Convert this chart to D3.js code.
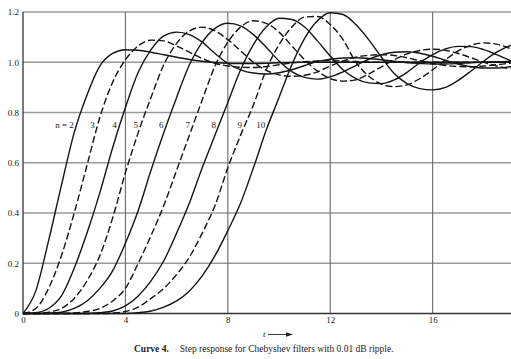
<!DOCTYPE html>
<html><head><meta charset="utf-8">
<script src="https://cdn.jsdelivr.net/npm/d3@7"></script>
<style>html,body{margin:0;padding:0;background:#fff;} svg{display:block;}</style>
</head><body>
<svg id="chart" width="511" height="359"></svg>
<script>
// ---- data ----
const times = [0,0.5,1,1.5,2,2.5,3,3.5,4,4.5,5,5.5,6,6.5,7,7.5,8,8.5,9,9.5,10,10.5,11,11.5,12,12.5,13,13.5,14,14.5,15,15.5,16,16.5,17,17.5,18,18.5,19,19.5];
const n2 = [0,0.09,0.29,0.51,0.72,0.87,0.985,1.035,1.05,1.048,1.04,1.03,1.02,1.011,1.004,0.999,0.996,0.995,0.995,0.996,0.998,0.999,1,1,1,1,1,1,1,1,1,1,1,1,1,1,1,1,1,1];
const n3 = [0,0.02,0.1,0.23,0.4,0.59,0.78,0.92,1.01,1.065,1.088,1.085,1.065,1.04,1.015,0.996,0.985,0.98,0.979,0.983,0.99,0.997,1.002,1.005,1.006,1.005,1.003,1.001,1,1,1,1,1,1,1,1,1,1,1,1];
const n4 = [0,0.003,0.02,0.07,0.18,0.32,0.48,0.66,0.82,0.96,1.05,1.105,1.12,1.11,1.08,1.035,0.995,0.97,0.957,0.953,0.958,0.97,0.987,1.003,1.012,1.017,1.018,1.015,1.01,1.004,0.998,0.995,0.993,0.993,0.995,0.998,1,1.002,1.003,1.003];
const n5 = [0,0,0.005,0.02,0.06,0.13,0.23,0.38,0.56,0.72,0.86,0.99,1.075,1.125,1.14,1.125,1.09,1.045,1,0.968,0.95,0.944,0.948,0.962,0.985,1.005,1.02,1.028,1.03,1.027,1.018,1.006,0.995,0.987,0.983,0.982,0.985,0.99,0.996,1];
const n6 = [0,0,0.001,0.005,0.02,0.05,0.1,0.17,0.28,0.41,0.57,0.72,0.86,0.99,1.08,1.135,1.155,1.145,1.11,1.06,1.005,0.963,0.94,0.933,0.942,0.962,0.987,1.012,1.03,1.04,1.042,1.036,1.024,1.008,0.993,0.982,0.977,0.977,0.982,0.99];
const n7 = [0,0,0,0,0.002,0.008,0.02,0.05,0.1,0.2,0.31,0.43,0.57,0.71,0.85,0.985,1.08,1.14,1.165,1.155,1.12,1.065,1.01,0.965,0.935,0.925,0.93,0.953,0.982,1.01,1.033,1.047,1.052,1.048,1.035,1.018,1,0.985,0.975,0.972];
const n8 = [0,0,0,0,0,0,0.003,0.01,0.03,0.07,0.13,0.21,0.32,0.44,0.58,0.71,0.84,0.97,1.07,1.14,1.175,1.17,1.14,1.085,1.025,0.97,0.935,0.918,0.915,0.93,0.96,0.998,1.03,1.053,1.063,1.062,1.05,1.03,1.008,0.99];
const n9 = [0,0,0,0,0,0,0,0.002,0.008,0.025,0.06,0.1,0.155,0.225,0.32,0.43,0.58,0.71,0.83,0.97,1.07,1.14,1.18,1.182,1.15,1.09,1,0.945,0.913,0.903,0.91,0.935,0.97,1.01,1.045,1.068,1.077,1.072,1.055,1.03];
const n10 = [0,0,0,0,0,0,0,0,0,0.003,0.01,0.025,0.05,0.09,0.15,0.23,0.33,0.44,0.58,0.73,0.86,0.99,1.095,1.165,1.197,1.19,1.15,1.09,1.02,0.955,0.915,0.895,0.89,0.9,0.928,0.965,1.005,1.04,1.065,1.08];
const orders = [2,3,4,5,6,7,8,9,10];
const seriesValues = [n2,n3,n4,n5,n6,n7,n8,n9,n10];
const orderLabels = ["n = 2","3","4","5","6","7","8","9","10"];
const xTicks = [0,4,8,12,16];
const xTickLabels = ["0","4","8","12","16"];
const yTicks = [0,0.2,0.4,0.6,0.8,1.0,1.2];
const yTickLabels = ["0","0.2","0.4","0.6","0.8","1.0","1.2"];
const xAxisLabel = "t";
const captionBold = "Curve 4.";
const captionText = "Step response for Chebyshev filters with 0.01 dB ripple.";

// ---- layout ----
const svg = d3.select("#chart");
svg.append("rect").attr("width",511).attr("height",359).attr("fill","#fff");
const x = d3.scaleLinear().domain([0,19.06]).range([23,511]);
const y = d3.scaleLinear().domain([0,1.2]).range([313.5,12]);
const serif = "'Liberation Serif','DejaVu Serif',serif";

svg.append("defs").append("clipPath").attr("id","plot")
  .append("rect").attr("x",23).attr("y",10).attr("width",488).attr("height",306);

// grid
const grid = svg.append("g");
grid.selectAll("line.h").data(yTicks.filter(d=>d>0)).join("line")
  .attr("x1",x(0)).attr("x2",511).attr("y1",d=>y(d)).attr("y2",d=>y(d))
  .attr("stroke","#9a9a9a").attr("stroke-width",1.6);
grid.selectAll("line.v").data(xTicks.filter(d=>d>0)).join("line")
  .attr("x1",d=>x(d)).attr("x2",d=>x(d)).attr("y1",y(1.2)).attr("y2",y(0))
  .attr("stroke","#6a6a6a").attr("stroke-width",1.1);
// axes frame
svg.append("line").attr("x1",x(0)).attr("x2",x(0)).attr("y1",y(1.2)).attr("y2",y(0)+1)
  .attr("stroke","#333").attr("stroke-width",1.3);
svg.append("line").attr("x1",x(0)).attr("x2",511).attr("y1",y(0)).attr("y2",y(0))
  .attr("stroke","#333").attr("stroke-width",1.3);

// axes labels
const yAxis = svg.append("g").attr("transform",`translate(${x(0)},0)`)
  .call(d3.axisLeft(y).tickValues(yTicks).tickSize(0).tickPadding(4)
    .tickFormat((d,i)=>yTickLabels[i]));
yAxis.select(".domain").remove();
yAxis.selectAll("text").attr("font-family",serif).attr("font-size",9).attr("fill","#222");
const xAxis = svg.append("g").attr("transform",`translate(0,${y(0)})`)
  .call(d3.axisBottom(x).tickValues(xTicks).tickSize(0).tickPadding(3)
    .tickFormat((d,i)=>xTickLabels[i]));
xAxis.select(".domain").remove();
xAxis.selectAll("text").attr("font-family",serif).attr("font-size",9).attr("fill","#222");

// curves
const line = d3.line().x((d,i)=>x(times[i])).y(d=>y(d)).curve(d3.curveMonotoneX);
svg.append("g").attr("clip-path","url(#plot)")
  .selectAll("path").data(seriesValues).join("path")
  .attr("d",d=>line(d)).attr("fill","none").attr("stroke","#151515")
  .attr("stroke-width",1.4)
  .attr("stroke-dasharray",(d,i)=>orders[i]%2===1?"7,3":null);

// order labels: placed just left of each curve where it crosses 0.75
function crossT(vals,level){
  for(let i=1;i<vals.length;i++){
    if(vals[i-1]<level && vals[i]>=level){
      const f=(level-vals[i-1])/(vals[i]-vals[i-1]);
      return times[i-1]+f*(times[i]-times[i-1]);
    }
  }
  return 0;
}
svg.append("g").selectAll("text").data(seriesValues).join("text")
  .attr("x",d=>x(crossT(d,0.75))-3).attr("y",y(0.75)+3)
  .attr("text-anchor","end").attr("font-family",serif).attr("font-size",9).attr("fill","#222")
  .text((d,i)=>orderLabels[i]);

// t arrow label
svg.append("text").attr("x",263).attr("y",337).attr("font-family",serif)
  .attr("font-style","italic").attr("font-size",9).attr("fill","#222").text(xAxisLabel);
svg.append("line").attr("x1",268).attr("x2",287).attr("y1",334.5).attr("y2",334.5)
  .attr("stroke","#222").attr("stroke-width",0.9);
svg.append("path").attr("d","M286,332.3 L293,334.5 L286,336.7 Z").attr("fill","#222");

// caption
const cap = svg.append("text").attr("x",134).attr("y",352)
  .attr("font-family",serif).attr("font-size",9.5).attr("fill","#222");
cap.append("tspan").attr("font-weight","bold").text(captionBold);
cap.append("tspan").attr("dx",11).text(captionText);
</script>
</body></html>
